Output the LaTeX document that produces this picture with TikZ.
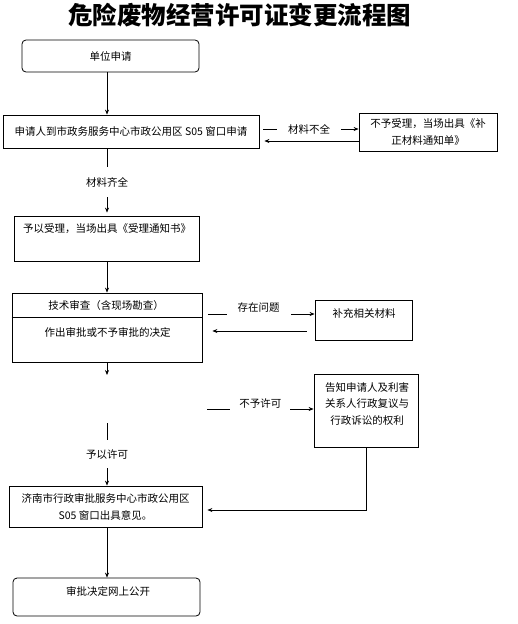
\documentclass[tikz,border=0pt]{standalone}
\usepackage{fontspec}
\setmainfont{Noto Sans CJK SC}
\usetikzlibrary{arrows.meta,positioning}

\begin{document}
\begin{tikzpicture}[
    x=1pt, y=-1pt,
    flowbox/.style={draw, line width=0.8pt, inner sep=0pt, font=\fontsize{10.5}{17}\selectfont, align=center},
    roundbox/.style={flowbox, rounded corners=4pt},
    txt/.style={font=\fontsize{10.5}{16.5}\selectfont, inner sep=0pt, align=center},
    lbl/.style={font=\fontsize{10.5}{13}\selectfont, fill=white, inner xsep=11pt, inner ysep=4pt},
    arr/.style={-{Stealth[length=5pt,width=4pt]}, line width=0.7pt}
  ]
    \useasboundingbox (0,0) rectangle (517,624);

    \node[font=\fontsize{24.5}{28}\selectfont\bfseries] (title) at (239.5,15) {危险废物经营许可证变更流程图};

    % boxes of the main column
    \node[roundbox, minimum width=177pt, minimum height=32pt] (start) at (110.5,56) {单位申请};
    \node[flowbox, minimum width=256pt, minimum height=33pt] (apply) at (131,131.5) {申请人到市政务服务中心市政公用区 S05 窗口申请};
    \node[flowbox, minimum width=185pt, minimum height=45pt] (accept) at (106.5,238.5) {};
    \node[txt, anchor=west] (accepttxt) at (23,229) {予以受理，当场出具《受理通知书》};
    \node[flowbox, minimum width=190pt, minimum height=69pt] (review) at (107,327.5) {};
    \draw[line width=0.8pt] ([yshift=-25pt]review.north west) -- ([yshift=-25pt]review.north east);
    \node[txt] (reviewtop) at (106,306) {技术审查（含现场勘查）};
    \node[txt] (reviewbot) at (107.5,332) {作出审批或不予审批的决定};
    \node[flowbox, minimum width=193pt, minimum height=41pt] (opinion) at (105.5,506.5) {济南市行政审批服务中心市政公用区\\S05 窗口出具意见。};
    \node[roundbox, minimum width=187pt, minimum height=38pt] (publish) at (106.5,597) {};
    \node[txt] (publishtxt) at (108,591) {审批决定网上公开};

    % side boxes
    \node[flowbox, minimum width=138pt, minimum height=38pt] (reject) at (428,132) {不予受理，当场出具《补\\正材料通知单》};
    \node[flowbox, minimum width=97pt, minimum height=40pt] (supply) at (363.5,320) {};
    \node[txt] (supplytxt) at (364,313) {补充相关材料};
    \node[flowbox, minimum width=104pt, minimum height=73pt] (notify) at (366,410.5) {};
    \node[txt] (notifytxt) at (367,403.5) {告知申请人及利害\\关系人行政复议与\\行政诉讼的权利};

    % helper points
    \coordinate (spine) at (107,0);
    \coordinate (halt) at (107,375);
    \coordinate (grant) at (107,423);
    \coordinate (deny) at (207,409);
    \coordinate (r1) at (0,129);
    \coordinate (r2) at (0,141);
    \coordinate (r3) at (0,314);
    \coordinate (r4) at (0,331);
    \coordinate (r5) at (0,510);

    % main flow
    \draw[arr] (start.south -| spine) -- (apply.north -| spine);
    \draw[arr, shorten >=3pt] (apply.south -| spine) -- (accept.north -| spine)
        node[lbl, midway, inner ysep=10pt] (enough) {材料齐全};
    \draw[arr] (accept.south -| spine) -- (review.north -| spine);
    \draw[arr] (review.south -| spine) -- (halt);
    \draw[arr] (grant) -- (opinion.north -| spine)
        node[lbl, midway, inner ysep=9pt] (permit) {予以许可};
    \draw[arr] (opinion.south -| spine) -- (publish.north -| spine);

    % side loops
    \draw[arr, shorten <=4pt] (apply.east |- r1) -- (reject.west |- r1)
        node[lbl, midway] (lack) {材料不全};
    \draw[arr, shorten >=5pt] (reject.west |- r2) -- (apply.east |- r2);
    \draw[arr, shorten <=6pt] (review.east |- r3) -- (supply.west |- r3)
        node[lbl, midway, yshift=6pt] (issue) {存在问题};
    \draw[arr, shorten <=8pt, shorten >=10pt] (supply.west |- r4) -- (review.east |- r4);
    \draw[arr] (deny) -- (notify.west |- deny)
        node[lbl, midway, yshift=6pt, inner xsep=9pt] (refuse) {不予许可};
    \draw[arr, shorten >=5pt] (notify.south) |- (opinion.east |- r5);
  \end{tikzpicture}
\end{document}
